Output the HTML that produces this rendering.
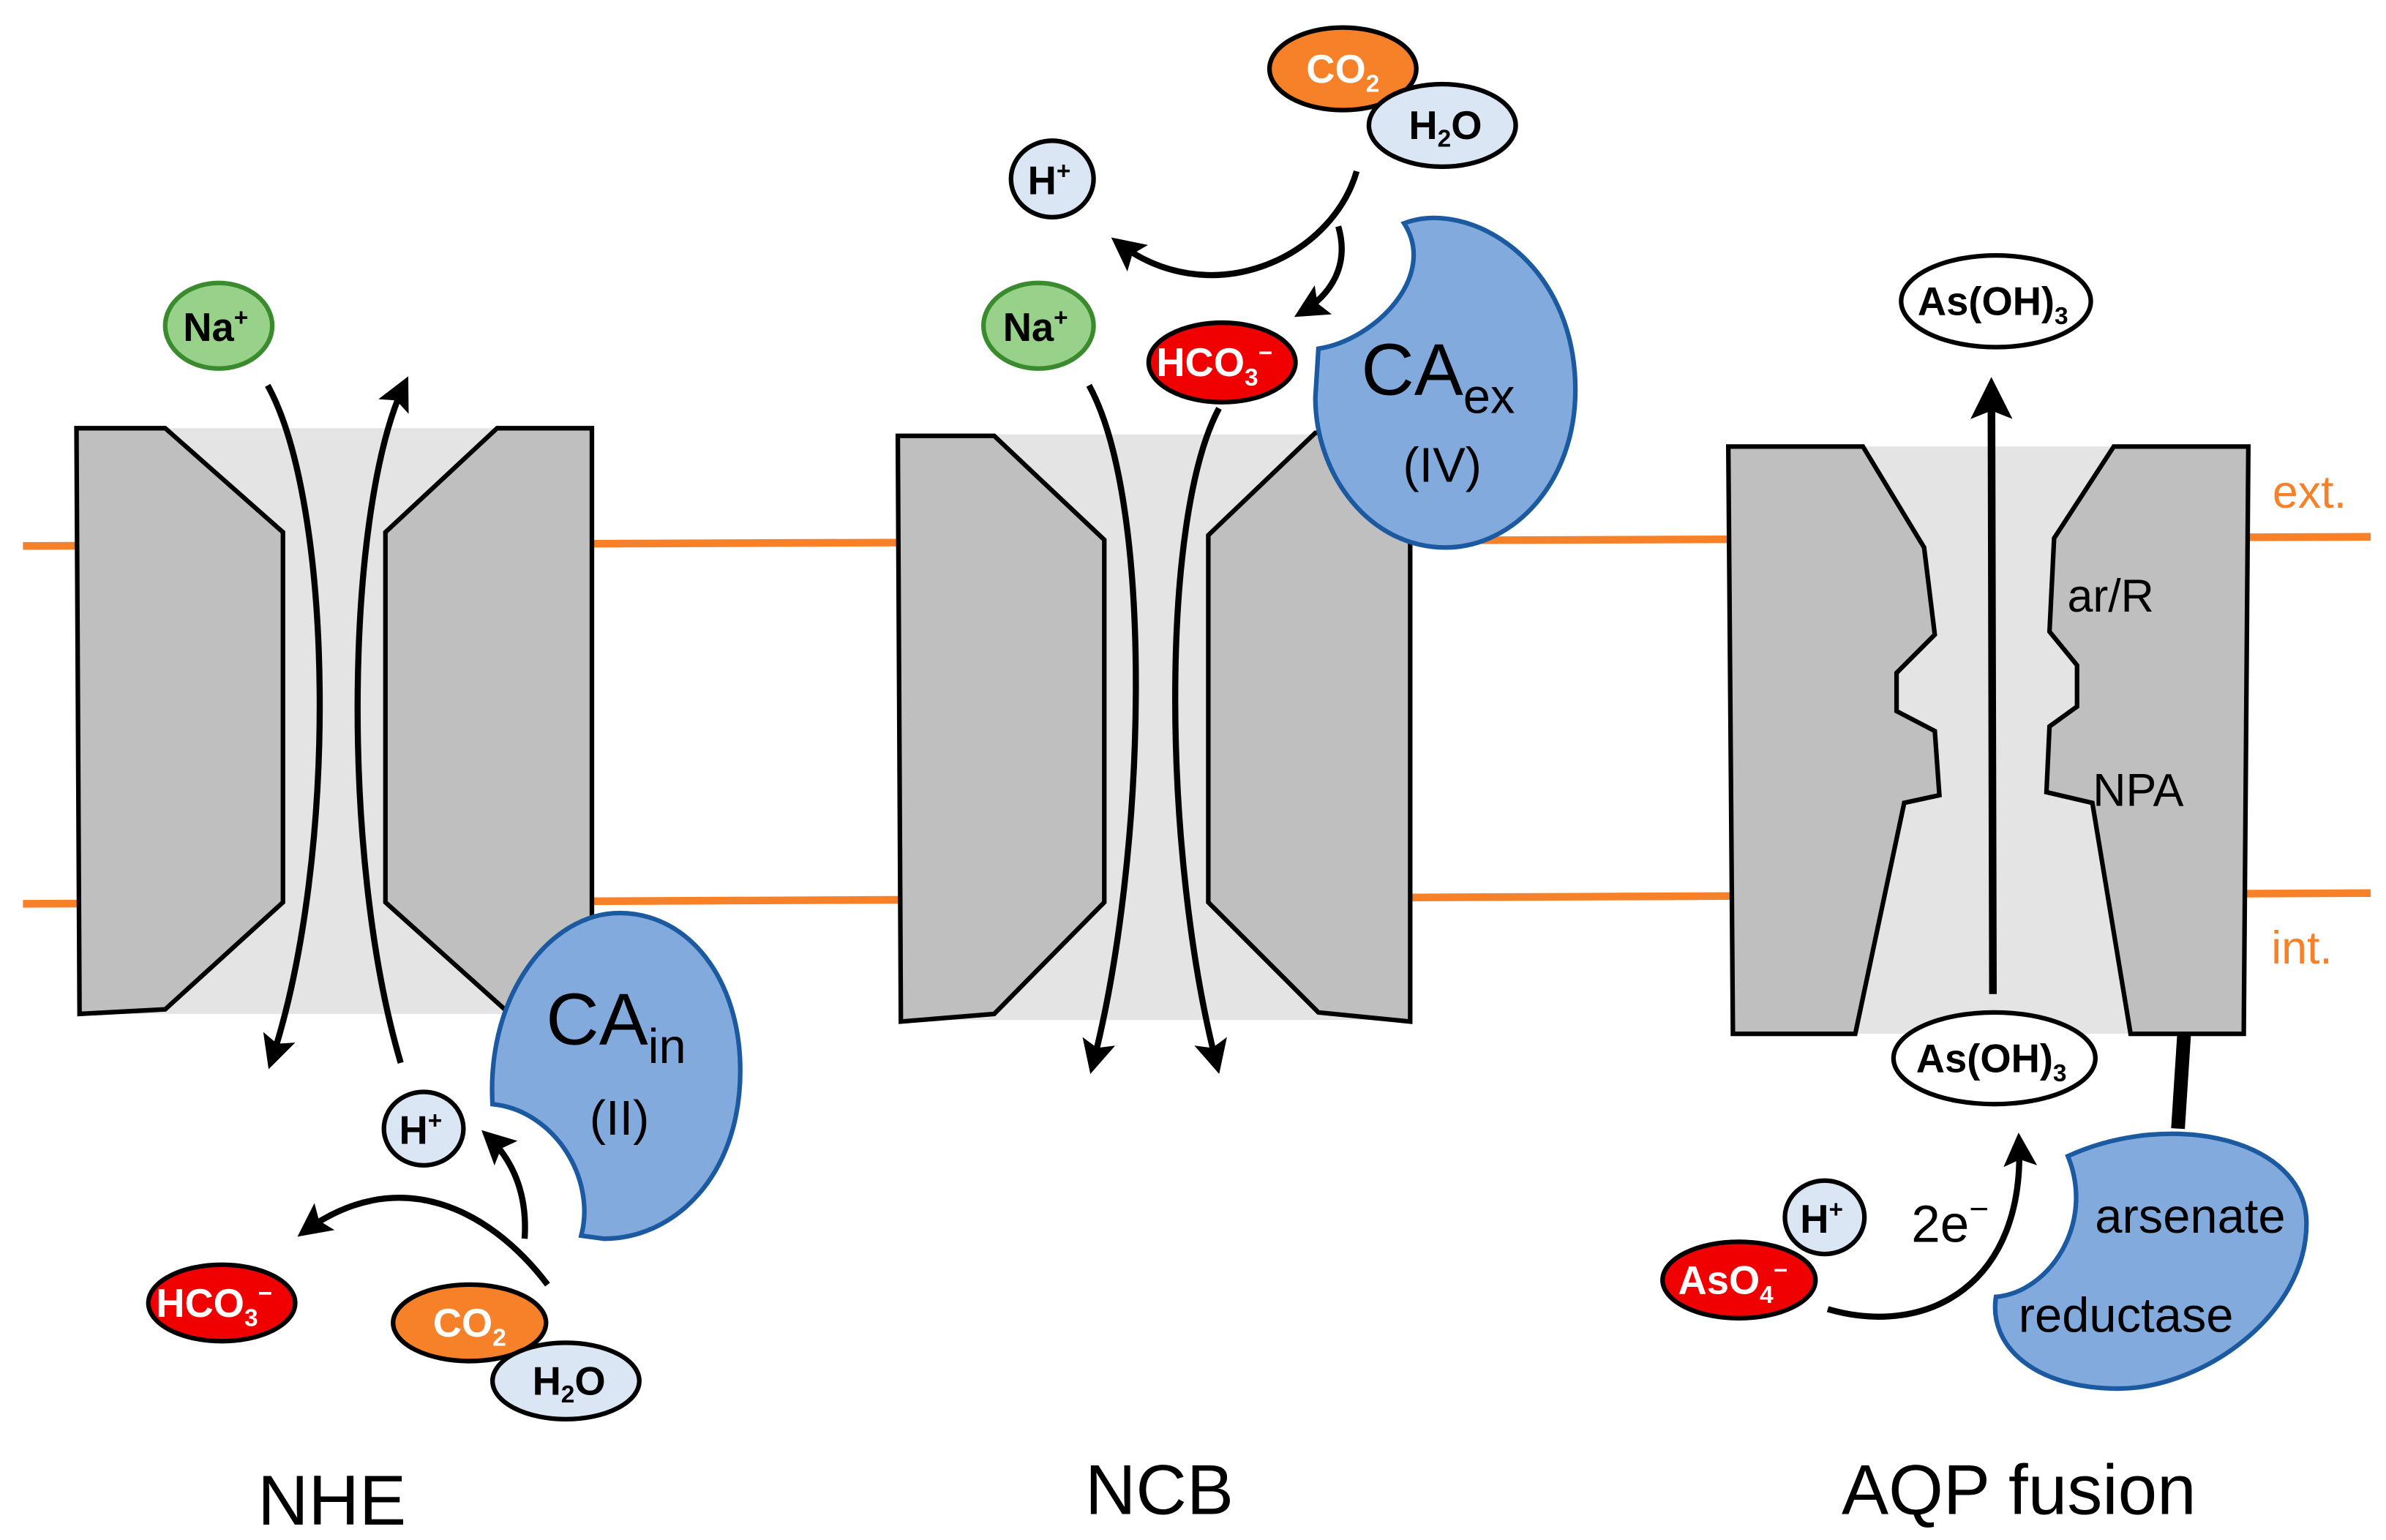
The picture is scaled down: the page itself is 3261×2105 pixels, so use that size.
<!DOCTYPE html>
<html><head><meta charset="utf-8"><style>
html,body{margin:0;padding:0;background:#fff}
svg{display:block}
text{font-family:"Liberation Sans",Arial,sans-serif}
.m{font-weight:bold;font-size:26px;text-anchor:middle}
</style></head><body>
<svg width="3261" height="2105" viewBox="0 0 1560 1007" preserveAspectRatio="none" xmlns="http://www.w3.org/2000/svg">
<defs>
<marker id="ah" viewBox="0 0 10 10" refX="8" refY="5" markerWidth="5.5" markerHeight="5.5" orient="auto" markerUnits="strokeWidth">
<path d="M0,0 L10,5 L0,10 L2,5 Z" fill="#000"/></marker>
</defs>
<line x1="15" y1="357" x2="1550" y2="351" stroke="#f78129" stroke-width="5"/>
<line x1="15" y1="591" x2="1550" y2="584" stroke="#f78129" stroke-width="5"/>

<rect x="52" y="280" width="335" height="383" fill="#e4e4e4"/>
<polygon points="50,280 108,280 185,348 185,590 108,660 52,663" fill="#bfbfbf" stroke="#000" stroke-width="3"/>
<polygon points="387,280 325,280 252,348 252,590 330,660 387,663" fill="#bfbfbf" stroke="#000" stroke-width="3"/>
<path d="M175,252 C218,330 222,560 177,695" fill="none" stroke="#000" stroke-width="4" marker-end="url(#ah)"/>
<path d="M262,695 C222,560 226,330 265,250" fill="none" stroke="#000" stroke-width="4" marker-end="url(#ah)"/>
<ellipse cx="143" cy="213" rx="35" ry="28" fill="#98d18a" stroke="#3a8a2e" stroke-width="3"/>
<text x="141" y="223" class="m">Na<tspan dy="-10" font-size="16">+</tspan></text>
<path d="M322,722 C318,650 360,597 405,597 C450,597 484,640 484,700 C484,770 440,810 395,810 L380,808 C390,770 362,726 322,722 Z" fill="#82aadd" stroke="#1b5aa0" stroke-width="3"/>
<text x="357" y="683" font-size="48">CA<tspan dy="12" font-size="32">in</tspan></text>
<text x="405" y="742" font-size="32" text-anchor="middle">(II)</text>
<path d="M358,840 C320,790 260,760 198,806" fill="none" stroke="#000" stroke-width="4" marker-end="url(#ah)"/>
<path d="M343,810 C345,780 335,758 318,742" fill="none" stroke="#000" stroke-width="4" marker-end="url(#ah)"/>
<ellipse cx="277" cy="738" rx="26" ry="24" fill="#dae6f4" stroke="#000" stroke-width="3"/>
<text x="275" y="748" class="m">H<tspan dy="-10" font-size="16">+</tspan></text>
<ellipse cx="145" cy="852" rx="48" ry="25" fill="#f00000" stroke="#000" stroke-width="3"/>
<text x="140" y="861" class="m" fill="#fff">HCO<tspan dy="6" font-size="16">3</tspan><tspan dy="-16" font-size="16">−</tspan></text>
<ellipse cx="307" cy="865" rx="50" ry="25" fill="#f78129" stroke="#000" stroke-width="3"/>
<text x="307" y="874" class="m" fill="#fff">CO<tspan dy="6" font-size="16">2</tspan></text>
<ellipse cx="370" cy="903" rx="48" ry="25" fill="#dae6f4" stroke="#000" stroke-width="3"/>
<text x="372" y="912" class="m">H<tspan dy="5" font-size="16">2</tspan><tspan dy="-5">O</tspan></text>
<text x="217" y="997" font-size="46" text-anchor="middle">NHE</text>

<rect x="588" y="284" width="334" height="383" fill="#e4e4e4"/>
<polygon points="587,285 650,285 722,353 722,590 650,663 589,668" fill="#bfbfbf" stroke="#000" stroke-width="3"/>
<polygon points="922,283 860,283 790,350 790,590 862,662 922,668" fill="#bfbfbf" stroke="#000" stroke-width="3"/>
<path d="M712,252 C755,330 750,560 714,698" fill="none" stroke="#000" stroke-width="4" marker-end="url(#ah)"/>
<path d="M797,267 C758,340 760,560 796,698" fill="none" stroke="#000" stroke-width="4" marker-end="url(#ah)"/>
<ellipse cx="679" cy="213" rx="36" ry="28" fill="#98d18a" stroke="#3a8a2e" stroke-width="3"/>
<text x="677" y="223" class="m">Na<tspan dy="-10" font-size="16">+</tspan></text>
<path d="M887,112 C870,170 790,205 730,158" fill="none" stroke="#000" stroke-width="4" marker-end="url(#ah)"/>
<path d="M875,148 C882,172 872,192 850,205" fill="none" stroke="#000" stroke-width="4" marker-end="url(#ah)"/>
<ellipse cx="688" cy="117" rx="27" ry="25" fill="#dae6f4" stroke="#000" stroke-width="3"/>
<text x="686" y="127" class="m">H<tspan dy="-10" font-size="16">+</tspan></text>
<ellipse cx="878" cy="45" rx="48" ry="27" fill="#f78129" stroke="#000" stroke-width="3"/>
<text x="878" y="54" class="m" fill="#fff">CO<tspan dy="6" font-size="16">2</tspan></text>
<ellipse cx="943" cy="82" rx="48" ry="27" fill="#dae6f4" stroke="#000" stroke-width="3"/>
<text x="945" y="91" class="m">H<tspan dy="5" font-size="16">2</tspan><tspan dy="-5">O</tspan></text>
<ellipse cx="799" cy="237" rx="48" ry="26" fill="#f00000" stroke="#000" stroke-width="3"/>
<text x="794" y="246" class="m" fill="#fff">HCO<tspan dy="6" font-size="16">3</tspan><tspan dy="-16" font-size="16">−</tspan></text>
<path d="M918,146 C960,130 1030,170 1030,255 C1030,315 990,358 945,358 C895,358 860,310 860,260 L862,228 C900,222 940,180 918,146 Z" fill="#82aadd" stroke="#1b5aa0" stroke-width="3"/>
<text x="890" y="258" font-size="48">CA<tspan dy="12" font-size="32">ex</tspan></text>
<text x="943" y="315" font-size="32" text-anchor="middle">(IV)</text>
<text x="758" y="990" font-size="46" text-anchor="middle">NCB</text>

<rect x="1132" y="292" width="336" height="384" fill="#e4e4e4"/>
<polygon points="1130,292 1218,292 1258,358 1265,415 1240,440 1240,465 1265,478 1268,520 1245,525 1213,676 1133,676" fill="#bfbfbf" stroke="#000" stroke-width="3"/>
<polygon points="1470,292 1382,292 1343,352 1340,413 1358,435 1358,462 1340,475 1338,518 1368,525 1393,676 1467,676" fill="#bfbfbf" stroke="#000" stroke-width="3"/>
<line x1="1303" y1="650" x2="1302" y2="252" stroke="#000" stroke-width="5" marker-end="url(#ah)"/>
<ellipse cx="1305" cy="197" rx="62" ry="30" fill="#fff" stroke="#000" stroke-width="3"/>
<text x="1303" y="206" class="m">As(OH)<tspan dy="6" font-size="16">3</tspan></text>
<ellipse cx="1304" cy="692" rx="66" ry="30" fill="#fff" stroke="#000" stroke-width="3"/>
<text x="1302" y="701" class="m">As(OH)<tspan dy="6" font-size="16">3</tspan></text>
<text x="1380" y="400" font-size="30" text-anchor="middle">ar/R</text>
<text x="1398" y="527" font-size="30" text-anchor="middle">NPA</text>
<text x="1510" y="332" font-size="30" fill="#f78129" text-anchor="middle">ext.</text>
<text x="1505" y="630" font-size="30" fill="#f78129" text-anchor="middle">int.</text>
<line x1="1428" y1="676" x2="1424" y2="738" stroke="#000" stroke-width="9"/>
<path d="M1352,756 C1420,725 1508,745 1508,800 C1508,860 1440,908 1385,908 C1330,908 1300,880 1305,848 C1340,845 1370,800 1352,756 Z" fill="#82aadd" stroke="#1b5aa0" stroke-width="3"/>
<text x="1432" y="806" font-size="32" text-anchor="middle">arsenate</text>
<text x="1390" y="871" font-size="32" text-anchor="middle">reductase</text>
<path d="M1195,856 C1260,875 1325,840 1320,745" fill="none" stroke="#000" stroke-width="4" marker-end="url(#ah)"/>
<ellipse cx="1193" cy="796" rx="26" ry="24" fill="#dae6f4" stroke="#000" stroke-width="3"/>
<text x="1191" y="806" class="m">H<tspan dy="-10" font-size="16">+</tspan></text>
<ellipse cx="1137" cy="837" rx="50" ry="25" fill="#f00000" stroke="#000" stroke-width="3"/>
<text x="1133" y="846" class="m" fill="#fff">AsO<tspan dy="6" font-size="16">4</tspan><tspan dy="-16" font-size="16">−</tspan></text>
<text x="1275" y="812" font-size="34" text-anchor="middle">2e<tspan dy="-14" font-size="22">−</tspan></text>
<text x="1320" y="990" font-size="46" text-anchor="middle">AQP fusion</text>
</svg>
</body></html>
